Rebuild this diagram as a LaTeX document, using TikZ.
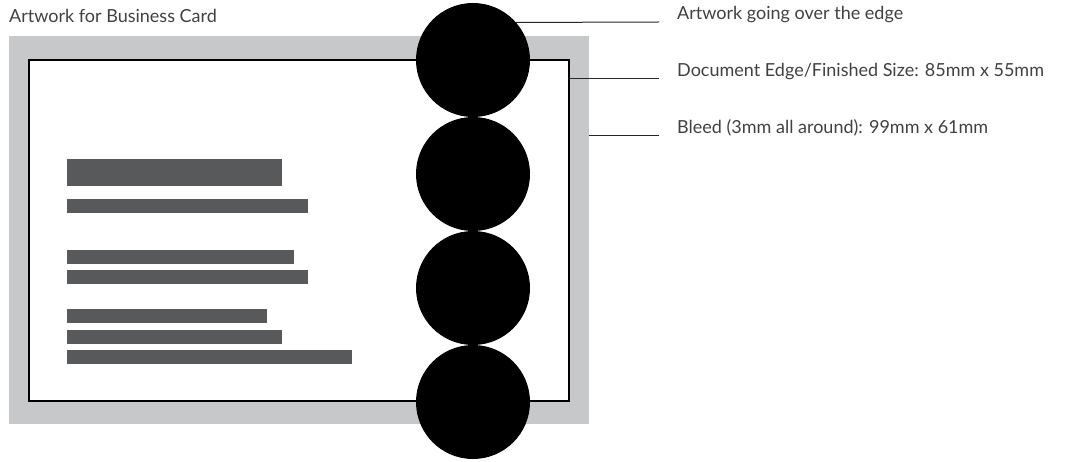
\documentclass[tikz,border=0pt]{standalone}
\usepackage{fontspec}
\setmainfont{Lato}
\definecolor{bleedgray}{HTML}{C7C8CA}
\definecolor{bargray}{HTML}{58595B}
\definecolor{txtgray}{HTML}{414042}
\begin{document}
\begin{tikzpicture}[x=1pt,y=-1pt,
  lbl/.style={anchor=base west,inner sep=0pt,text=txtgray,font=\fontsize{18}{21}\selectfont},
  bar/.style={fill=bargray,draw=none},
  dot/.style={circle,fill=black,draw=none,minimum size=114pt,inner sep=0pt},
  leader/.style={draw=black!85,line width=1pt}]
\useasboundingbox (0,0) rectangle (1075,462);
\node[fill=bleedgray,draw=none,minimum width=580pt,minimum height=388pt,inner sep=0pt] (bleed) at (299,230) {};
\node[fill=white,draw=black,line width=2pt,minimum width=540pt,minimum height=341pt,inner sep=0pt] (card) at (299,230.3) {};
% text bars
\fill[bar] (67,159) rectangle (282,186);
\fill[bar] (67,199) rectangle (308,213);
\fill[bar] (67,250) rectangle (294,264);
\fill[bar] (67,270) rectangle (308,284);
\fill[bar] (67,309) rectangle (267,323);
\fill[bar] (67,330) rectangle (282,344);
\fill[bar] (67,350) rectangle (352,364);
% circles
\node[dot] (c1) at (473,60) {};
\node[dot] (c2) at (473,174) {};
\node[dot] (c3) at (473,288) {};
\node[dot] (c4) at (473,402) {};
% labels
\node[lbl] (title) at (9,23) {Artwork for Business Card};
\node[lbl] (l1) at (677,20) {Artwork going over the edge};
\node[lbl] (l2) at (677,77) {Document Edge/Finished Size: 85mm x 55mm};
\node[lbl] (l3) at (677,134) {Bleed (3mm all around): 99mm x 61mm};
% leader lines
\coordinate (e1) at (659,22);
\coordinate (e2) at (659,79);
\coordinate (e3) at (659,136);
\coordinate (s1) at (c1.41.8);
\coordinate (s2) at (card.north east |- e2);
\coordinate (s3) at (bleed.north east |- e3);
\draw[leader] (s1) -- (e1);
\draw[leader] (s2) -- (e2);
\draw[leader] (s3) -- (e3);
\end{tikzpicture}
\end{document}
